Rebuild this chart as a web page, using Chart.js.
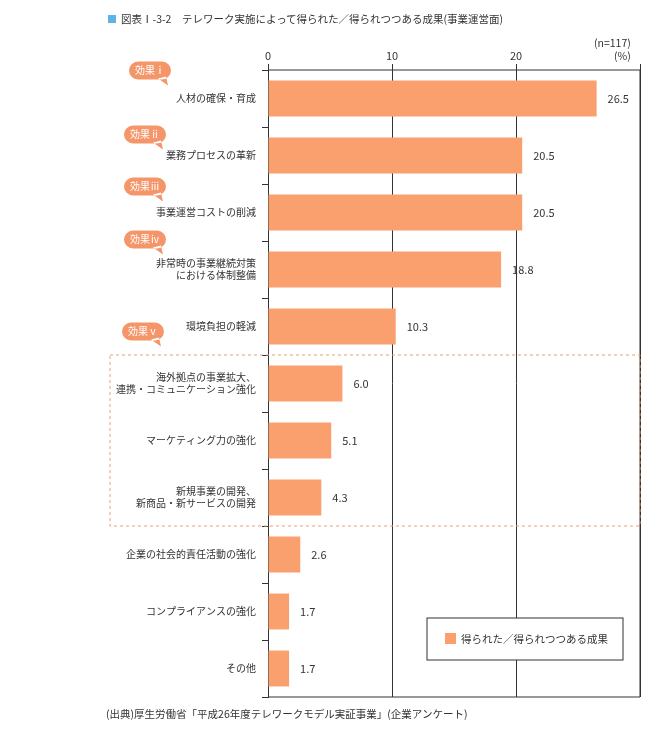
<!DOCTYPE html>
<html><head><meta charset="utf-8">
<script src="https://cdn.jsdelivr.net/npm/chart.js@4"></script>
<style>
body{margin:0;background:#fff;font-family:"Noto Sans CJK JP",sans-serif;color:#333}
#wrap{position:relative;width:669px;height:746px}
.t{position:absolute;font-size:10.5px;white-space:nowrap}
</style></head><body>
<div id="wrap">
<canvas id="c" width="669" height="746"></canvas>
<div class="t" style="left:108px;top:11px"><span style="display:inline-block;width:8px;height:8px;background:#5bb4e5;margin-right:5px"></span>図表Ⅰ-3-2　テレワーク実施によって得られた／得られつつある成果(事業運営面)</div>
<div class="t" style="left:594px;top:36px;text-align:right;line-height:13px">(n=117)<br>&nbsp;&nbsp;&nbsp;&nbsp;&nbsp;(%)</div>
<div class="t" style="left:106px;top:706px">(出典)厚生労働省「平成26年度テレワークモデル実証事業」(企業アンケート)</div>
</div>
<script>
// カテゴリと値
const categories = [
  '人材の確保・育成', '業務プロセスの革新', '事業運営コストの削減',
  ['非常時の事業継続対策', 'における体制整備'], '環境負担の軽減',
  ['海外拠点の事業拡大、', '連携・コミュニケーション強化'], 'マーケティング力の強化',
  ['新規事業の開発、', '新商品・新サービスの開発'], '企業の社会的責任活動の強化',
  'コンプライアンスの強化', 'その他'
];
const values = [26.5, 20.5, 20.5, 18.8, 10.3, 6.0, 5.1, 4.3, 2.6, 1.7, 1.7];
const xTicks = [0, 10, 20, 30];
const badges = [
  { idx: 0, text: '効果ⅰ' }, { idx: 1, text: '効果ⅱ' }, { idx: 2, text: '効果ⅲ' },
  { idx: 3, text: '効果ⅳ' }, { idx: 4, text: '効果ⅴ' }
];
const legendLabel = '得られた／得られつつある成果';
const barColor = '#f9a06e';
const FONT = '"Noto Sans CJK JP", sans-serif';

const extras = {
  id: 'extras',
  afterDraw(chart) {
    const { ctx, chartArea: a, scales: { x, y } } = chart;
    ctx.save();
    // 枠線
    ctx.strokeStyle = '#333'; ctx.lineWidth = 1;
    ctx.beginPath();
    ctx.moveTo(a.left, a.top); ctx.lineTo(a.right, a.top);
    ctx.lineTo(a.right, a.bottom); ctx.lineTo(a.left, a.bottom);
    ctx.stroke();
    // 値ラベル
    ctx.fillStyle = '#333'; ctx.font = '11px ' + FONT;
    ctx.textBaseline = 'middle'; ctx.textAlign = 'left';
    values.forEach((v, i) => ctx.fillText(v.toFixed(1), x.getPixelForValue(v) + 11, y.getPixelForValue(i)));
    // 点線枠
    const step = y.getPixelForValue(1) - y.getPixelForValue(0);
    const top = y.getPixelForValue(5) - step / 2, bot = y.getPixelForValue(7) + step / 2;
    ctx.strokeStyle = '#e8a070'; ctx.setLineDash([3, 3]);
    ctx.strokeRect(110, top, a.right - 110, bot - top);
    ctx.setLineDash([]);
    // 効果バッジ
    const offs = [[-118, -28], [-123, -21], [-123, -26], [-123, -30], [-125, 5]];
    ctx.font = '10px ' + FONT; ctx.textAlign = 'center';
    badges.forEach((b, k) => {
      const cx = a.left + offs[k][0], cy = y.getPixelForValue(b.idx) + offs[k][1];
      ctx.fillStyle = '#f4956a';
      ctx.beginPath();
      ctx.roundRect(cx - 21, cy - 9, 42, 18, 9);
      ctx.moveTo(cx + 8, cy + 8); ctx.lineTo(cx + 18, cy + 15); ctx.lineTo(cx + 16, cy + 6);
      ctx.fill();
      ctx.fillStyle = '#fff';
      ctx.fillText(b.text, cx, cy);
    });
    // 凡例
    ctx.fillStyle = '#fff'; ctx.strokeStyle = '#333';
    ctx.fillRect(427, 618, 196, 42); ctx.strokeRect(427, 618, 196, 42);
    ctx.fillStyle = barColor; ctx.fillRect(445, 633, 11, 11);
    ctx.fillStyle = '#333'; ctx.textAlign = 'left'; ctx.font = '10.5px ' + FONT;
    ctx.fillText(legendLabel, 461, 639);
    ctx.restore();
  }
};

new Chart(document.getElementById('c'), {
  type: 'bar',
  data: {
    labels: categories,
    datasets: [{ label: legendLabel, data: values, backgroundColor: barColor,
      barPercentage: 0.63, categoryPercentage: 1 }]
  },
  options: {
    indexAxis: 'y', responsive: false, animation: false,
    layout: { padding: { right: 29, bottom: 49 } },
    plugins: { legend: { display: false }, tooltip: { enabled: false } },
    scales: {
      x: {
        position: 'top', min: 0, max: 30,
        afterFit: s => { s.height = 70; },
        afterBuildTicks: s => { s.ticks = xTicks.map(v => ({ value: v })); },
        ticks: { color: '#333', font: { size: 11, family: FONT }, padding: 2,
          callback: v => v === 30 ? '' : v },
        grid: { color: '#333', tickLength: 6 },
        border: { display: false }
      },
      y: {
        afterFit: s => { s.width = 268; },
        ticks: { color: '#333', font: { size: 10, family: FONT }, padding: 6 },
        grid: { offset: true, drawOnChartArea: false, color: '#333', tickLength: 6 },
        border: { color: '#333' }
      }
    }
  },
  plugins: [extras]
});
</script></body></html>
